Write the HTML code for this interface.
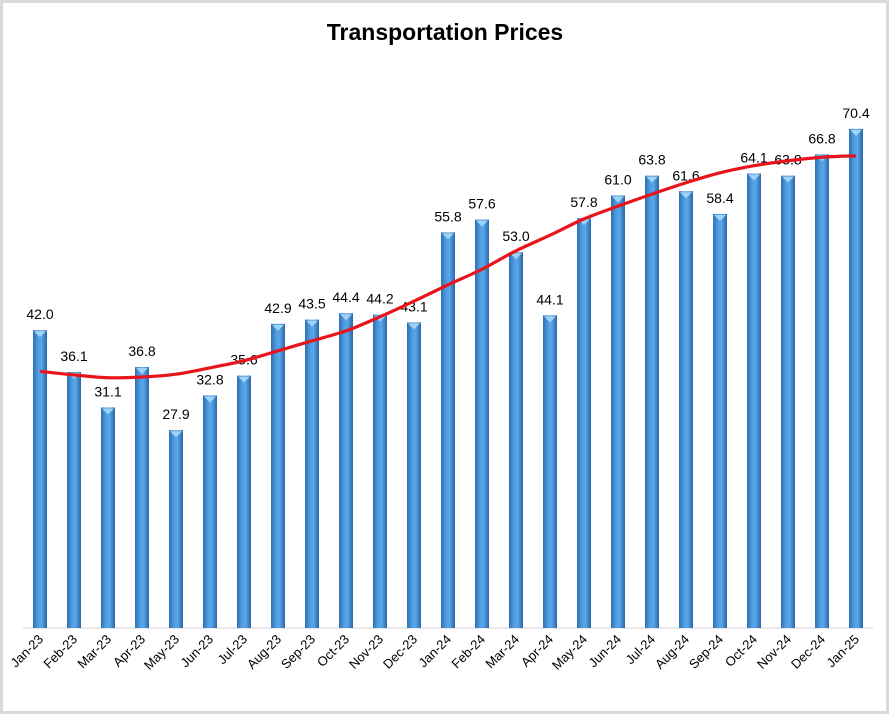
<!DOCTYPE html>
<html><head><meta charset="utf-8"><style>
html,body{margin:0;padding:0;background:#fff}
svg{display:block}
</style></head><body>
<svg id="chart" width="889" height="714" xmlns="http://www.w3.org/2000/svg">
<defs>
<linearGradient id="barGrad" x1="0" x2="1" y1="0" y2="0">
<stop offset="0" stop-color="#2f6fae"/>
<stop offset="0.35" stop-color="#4f9be0"/>
<stop offset="0.6" stop-color="#5aa6ea"/>
<stop offset="1" stop-color="#2a66a3"/>
</linearGradient>
</defs>
<rect x="1.5" y="1.5" width="886" height="711" fill="#fff" stroke="#d9d9d9" stroke-width="3"/>
<text x="445" y="40" text-anchor="middle" font-family="Liberation Sans, sans-serif" font-weight="bold" font-size="23">Transportation Prices</text>
<line x1="23" y1="628" x2="873" y2="628" stroke="#d0d0d0" stroke-width="1"/>
<g id="bars"></g>
<g id="labels"></g>
<g id="xticks"></g>
<path id="trend" fill="none" stroke="#e8141b" stroke-width="3.2"/>
</svg>
<script>
const categories = ["Jan-23","Feb-23","Mar-23","Apr-23","May-23","Jun-23","Jul-23","Aug-23","Sep-23","Oct-23","Nov-23","Dec-23","Jan-24","Feb-24","Mar-24","Apr-24","May-24","Jun-24","Jul-24","Aug-24","Sep-24","Oct-24","Nov-24","Dec-24","Jan-25"];
const values = [42.0,36.1,31.1,36.8,27.9,32.8,35.6,42.9,43.5,44.4,44.2,43.1,55.8,57.6,53.0,44.1,57.8,61.0,63.8,61.6,58.4,64.1,63.8,66.8,70.4];
const trendValues = [36.2,35.7,35.3,35.4,35.8,36.7,37.7,39.1,40.5,41.9,43.9,46.1,48.4,50.6,53.2,55.4,57.7,59.5,61.2,62.8,64.2,65.2,65.9,66.4,66.6];

const NS="http://www.w3.org/2000/svg";
const x0=40, dx=34, baseY=628, k=7.09, bw=14;
function xPos(i){return x0+i*dx;}
function yPos(v){return baseY-v*k;}
const gb=document.getElementById('bars'), gl=document.getElementById('labels'), gx=document.getElementById('xticks');
values.forEach((v,i)=>{
  const r=document.createElementNS(NS,'rect');
  
  
  r.setAttribute('x',xPos(i)-bw/2);r.setAttribute('y',yPos(v));
  r.setAttribute('width',bw);r.setAttribute('height',baseY-yPos(v));
  r.setAttribute('fill','url(#barGrad)');
  gb.appendChild(r);
  const cap=document.createElementNS(NS,'polygon');
  
  
  const xl=xPos(i)-bw/2+1, xr=xPos(i)+bw/2-1, yt=yPos(v)+1;
  cap.setAttribute('points',xl+','+yt+' '+xr+','+yt+' '+xPos(i)+','+(yt+6));
  cap.setAttribute('fill','#9fd4f7');
  gb.appendChild(cap);
  const t=document.createElementNS(NS,'text');
  
  
  t.setAttribute('x',xPos(i));t.setAttribute('y',yPos(v)-11);
  t.setAttribute('text-anchor','middle');
  t.setAttribute('font-family','Liberation Sans, sans-serif');
  t.setAttribute('font-size','14');
  t.textContent=v.toFixed(1);
  gl.appendChild(t);
  const c=document.createElementNS(NS,'text');
  
  
  c.setAttribute('text-anchor','end');
  c.setAttribute('font-family','Liberation Sans, sans-serif');
  c.setAttribute('font-size','13');
  c.setAttribute('transform','translate('+(xPos(i)+4)+','+(baseY+12)+') rotate(-45)');
  c.textContent=categories[i];
  gx.appendChild(c);
});
const pts=trendValues.map((v,i)=>[xPos(i),yPos(v)]);
let d='M'+pts[0][0]+','+pts[0][1];
for(let i=0;i<pts.length-1;i++){
  const p0=pts[Math.max(0,i-1)],p1=pts[i],p2=pts[i+1],p3=pts[Math.min(pts.length-1,i+2)];
  const c1x=p1[0]+(p2[0]-p0[0])/6,c1y=p1[1]+(p2[1]-p0[1])/6;
  const c2x=p2[0]-(p3[0]-p1[0])/6,c2y=p2[1]-(p3[1]-p1[1])/6;
  d+=' C'+c1x+','+c1y+' '+c2x+','+c2y+' '+p2[0]+','+p2[1];
}
document.getElementById('trend').setAttribute('d',d);
</script>
</body></html>
